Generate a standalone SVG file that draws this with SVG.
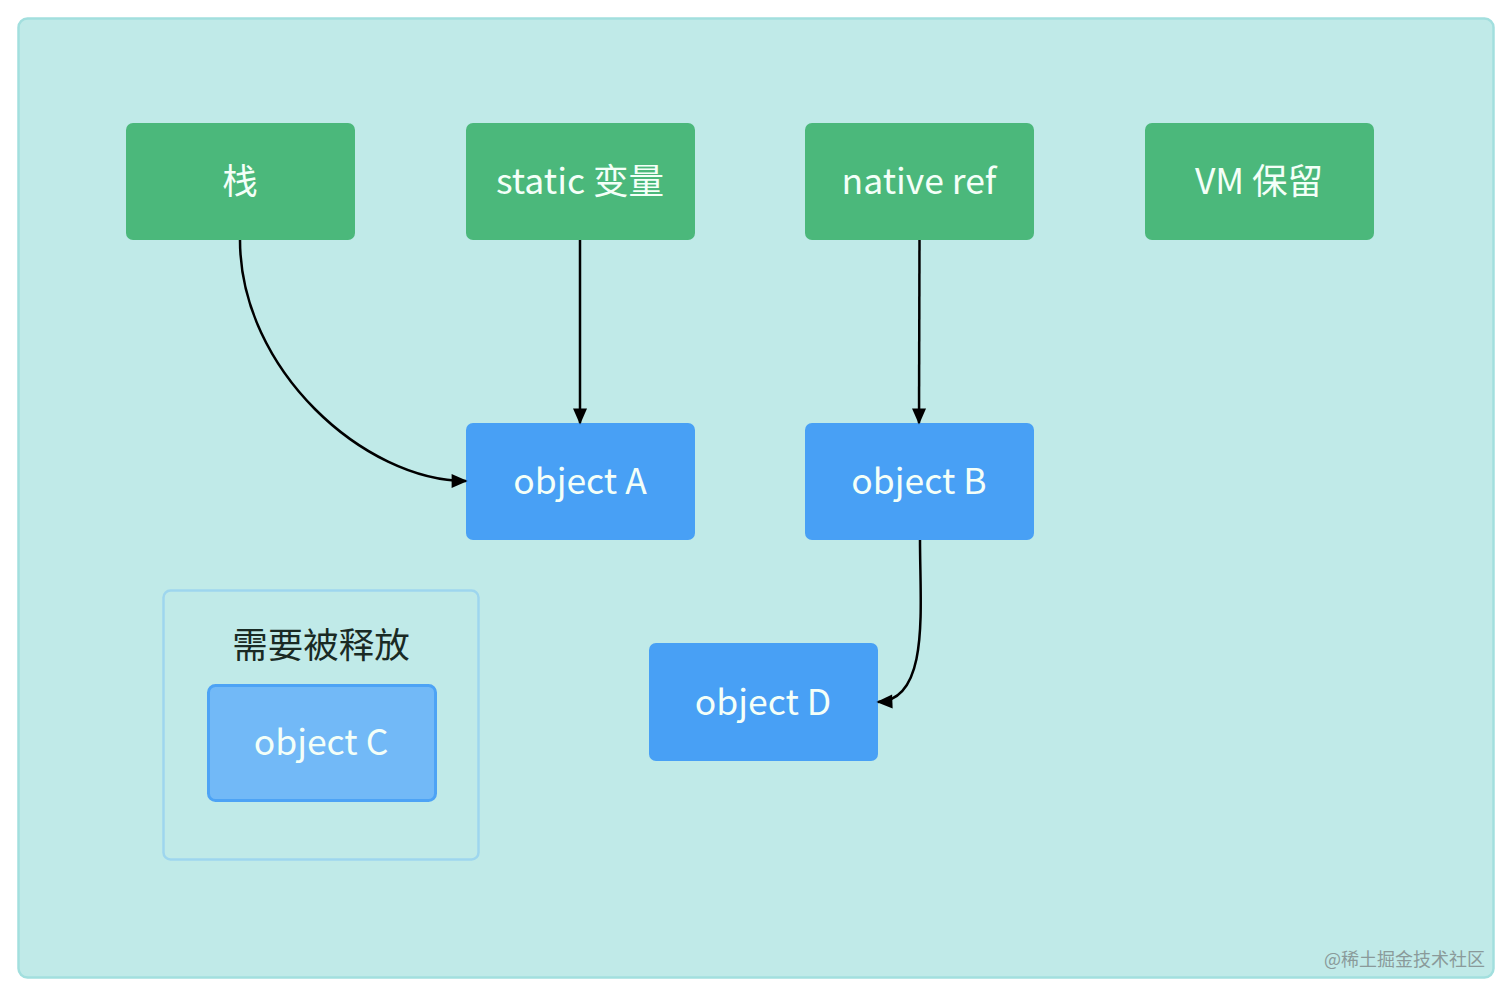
<svg xmlns="http://www.w3.org/2000/svg" width="1512" height="996" viewBox="0 0 1512 996">
<style>
.t{font-family:"Noto Sans CJK SC","Noto Sans",sans-serif;font-size:35.5px;fill:#f4fff8;text-anchor:middle;dominant-baseline:central}
.g{fill:#4bb87b}
.b{fill:#48a0f5}
.e{fill:none;stroke:#000;stroke-width:2.5;marker-end:url(#ah)}
</style>
<defs>
<marker id="ah" viewBox="0 0 10 10" refX="9" refY="5" markerWidth="16" markerHeight="14" orient="auto-start-reverse" markerUnits="userSpaceOnUse" preserveAspectRatio="none" overflow="visible">
<path d="M0,0 L10,5 L0,10 z" fill="#000"/>
</marker>
</defs>
<rect x="0" y="0" width="1512" height="996" fill="#ffffff"/>
<rect x="18.5" y="18.5" width="1475" height="959" rx="9" fill="#c0eae8" stroke="#a2dfde" stroke-width="2.5"/>
<g id="group-release">
<rect x="163.5" y="590.5" width="315" height="269" rx="7" fill="none" stroke="#9ed6ee" stroke-width="2.5"/>
<text x="321" y="642" class="t" style="fill:#1a2a24">需要被释放</text>
</g>
<g id="node-stack"><rect x="126" y="123" width="229" height="117" rx="7" class="g"/><text x="240" y="178" class="t">栈</text></g>
<g id="node-static"><rect x="466" y="123" width="229" height="117" rx="7" class="g"/><text x="580" y="178" class="t">static 变量</text></g>
<g id="node-native"><rect x="805" y="123" width="229" height="117" rx="7" class="g"/><text x="919" y="178" class="t">native ref</text></g>
<g id="node-vm"><rect x="1145" y="123" width="229" height="117" rx="7" class="g"/><text x="1259" y="178" class="t">VM 保留</text></g>
<g id="node-a"><rect x="466" y="423" width="229" height="117" rx="7" class="b"/><text x="580" y="478" class="t">object A</text></g>
<g id="node-b"><rect x="805" y="423" width="229" height="117" rx="7" class="b"/><text x="919" y="478" class="t">object B</text></g>
<g id="node-d"><rect x="649" y="643" width="229" height="118" rx="7" class="b"/><text x="763" y="699" class="t">object D</text></g>
<g id="node-c"><rect x="208.5" y="685.5" width="227" height="115" rx="7" fill="#72b9f7" stroke="#4da3f5" stroke-width="3"/><text x="321" y="739" class="t">object C</text></g>
<g id="connectors">
<path class="e" d="M240,240 C240,370 365,481 466,481"/>
<path class="e" d="M580,240 L580,423"/>
<path class="e" d="M919.5,240 L919,423"/>
<path class="e" d="M920,540 C920,610 930,700 878,702"/>
</g>
<text x="1485" y="958" font-family="'Noto Sans CJK SC',sans-serif" font-size="18" fill="#8a9a9a" text-anchor="end" dominant-baseline="central">@稀土掘金技术社区</text>
</svg>
